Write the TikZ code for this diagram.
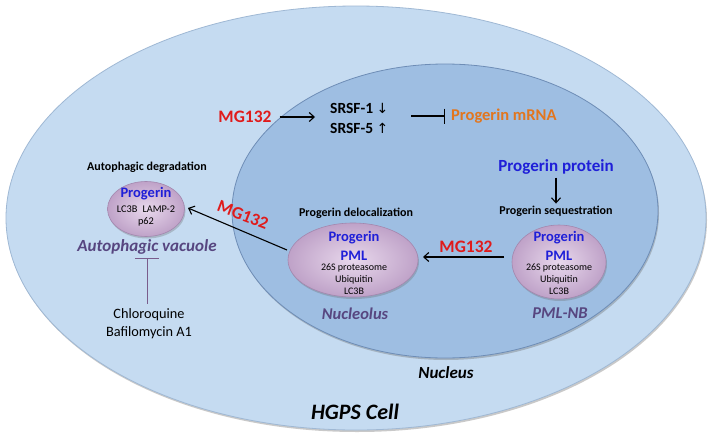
\documentclass[tikz,border=0pt]{standalone}
\usepackage{fontspec}
\setmainfont{Carlito}
\newfontfamily\dv{DejaVu Sans}
\usetikzlibrary{shapes.geometric,shadows,arrows.meta}
\definecolor{cellfill}{HTML}{C5DBF1}
\definecolor{cellline}{HTML}{9FB8D4}
\definecolor{nucfill}{HTML}{9EBEE2}
\definecolor{nucline}{HTML}{6E8DB6}
\definecolor{pblue}{HTML}{1F1FD8}
\definecolor{pred}{HTML}{E01B1B}
\definecolor{porange}{HTML}{E2761E}
\definecolor{ppurple}{HTML}{574680}
\definecolor{vacin}{HTML}{E8D8EC}
\definecolor{vacout}{HTML}{BFA2C8}
\definecolor{vacline}{HTML}{A387AE}
\definecolor{inhib}{HTML}{7A5C8C}
\tikzset{
  cellshape/.style={ellipse, inner sep=0pt, fill=cellfill, draw=cellline, line width=0.8pt,
    drop shadow={shadow xshift=1pt, shadow yshift=-2pt, opacity=0.35, fill=black!60}},
  nucshape/.style={ellipse, inner sep=0pt, fill=nucfill, draw=nucline, line width=0.8pt,
    drop shadow={shadow xshift=1pt, shadow yshift=-2pt, opacity=0.35, fill=black!60}},
  vacshape/.style={ellipse, inner sep=0pt, inner color=vacin, outer color=vacout, draw=vacline, line width=0.6pt,
    drop shadow={shadow xshift=1pt, shadow yshift=-2pt, opacity=0.3, fill=black!60}},
  drug/.style={text=pred, font=\bfseries\fontsize{17.5}{19}\selectfont, inner sep=1pt},
  lbl/.style={font=\bfseries\fontsize{12}{14}\selectfont, inner sep=1pt},
  organelle/.style={text=ppurple, font=\bfseries\itshape\fontsize{16.5}{18}\selectfont, inner sep=1pt},
  prog/.style={text=pblue, font=\bfseries\fontsize{14.5}{16}\selectfont, inner sep=1pt},
  small/.style={font=\fontsize{10}{11}\selectfont, inner sep=0.5pt},
  act/.style={-{Straight Barb[length=5pt,width=9pt]}, line width=1.1pt, black},
  blockarrow/.style={-{Bar[width=15pt]}, line width=1.1pt, black},
}
\begin{document}
\begin{tikzpicture}[x=1pt,y=-1pt]
\path[use as bounding box] (0,0) rectangle (708,436);
\fill[white] (0,0) rectangle (708,436);
% cell and nucleus
\node[cellshape, minimum width=700pt, minimum height=424pt] (cell) at (356,218) {};
\node[nucshape, minimum width=426pt, minimum height=294pt] (nucleus) at (445,211) {};
% texts on the cell
\node[font=\bfseries\itshape\fontsize{22}{24}\selectfont] (hgps) at (355,412) {HGPS Cell};
\node[font=\bfseries\itshape\fontsize{17}{19}\selectfont] (nuclabel) at (446,373) {Nucleus};
% splicing factors
\node[drug] (mgA) at (245,117) {MG132};
\node[font=\bfseries\fontsize{15.5}{17}\selectfont, anchor=west, inner sep=1pt] (srsfA) at (329,108) {SRSF-1 {\dv\mdseries\fontsize{14}{16}\selectfont ↓}};
\node[font=\bfseries\fontsize{15.5}{17}\selectfont, anchor=west, inner sep=1pt] (srsfB) at (329,128) {SRSF-5 {\dv\mdseries\fontsize{14}{16}\selectfont ↑}};
\node[text=porange, font=\bfseries\fontsize{16.5}{18}\selectfont, anchor=west, inner sep=1pt] (mrna) at (450,116) {Progerin mRNA};
\coordinate (mgAend) at (315,117);
\coordinate (inhA) at (411,116);
\coordinate (inhB) at (445,116);
\draw[act, shorten <=7pt] (mgA.east) -- (mgAend);
\draw[blockarrow] (inhA) -- (inhB);
% progerin protein
\node[text=pblue, font=\bfseries\fontsize{17}{19}\selectfont, inner sep=1pt] (protein) at (556,167) {Progerin protein};
\node[lbl] (seq) at (556,211) {Progerin sequestration};
\draw[act, shorten <=2pt, shorten >=1pt] (protein.south) -- (seq.north);
% PML-NB
\node[vacshape, minimum width=94pt, minimum height=74pt] (pmlnb) at (559,262) {};
\node[prog] (pA) at (559,238) {Progerin};
\node[prog] (pB) at (559,255.5) {PML};
\node[small] (pC) at (559,267.5) {26S proteasome};
\node[small] (pD) at (559,279.5) {Ubiquitin};
\node[small] (pE) at (559,291) {LC3B};
\node[organelle] (pmlnblbl) at (560,313) {PML-NB};
% Nucleolus
\node[lbl] (deloc) at (356,213) {Progerin delocalization};
\node[vacshape, minimum width=130pt, minimum height=74pt] (nucleolus) at (353,260) {};
\node[prog] (nA) at (354,238) {Progerin};
\node[prog] (nB) at (354,255.5) {PML};
\node[small] (nC) at (354,267.5) {26S proteasome};
\node[small] (nD) at (354,279.5) {Ubiquitin};
\node[small] (nE) at (354,291) {LC3B};
\node[organelle] (nucleoluslbl) at (355,314) {Nucleolus};
% MG132 between bodies
\node[drug] (mgB) at (466,247) {MG132};
\coordinate (pmlout) at (504,257);
\coordinate (nucin) at (423,257);
\draw[act] (pmlout) -- (nucin);
% Autophagic vacuole
\node[lbl] (degr) at (147,167) {Autophagic degradation};
\node[vacshape, minimum width=77pt, minimum height=55pt] (vac) at (146,209) {};
\node[prog] (vA) at (146,194) {Progerin};
\node[small, font=\fontsize{10.3}{11}\selectfont] (vB) at (146,209) {LC3B\enspace LAMP-2};
\node[small, font=\fontsize{10.3}{11}\selectfont] (vC) at (146,221.5) {p62};
\node[font=\bfseries\itshape\fontsize{17}{19}\selectfont, text=ppurple, inner sep=1pt] (vaclbl) at (147,247) {Autophagic vacuole};
% MG132 to vacuole
\coordinate (exitA) at (287,250);
\coordinate (vacin) at (188,208);
\draw[act] (exitA) -- (vacin);
\node[drug, rotate=-21] (mgC) at (243,215) {MG132};
% drugs inhibiting autophagy
\node[font=\fontsize{14.3}{18}\selectfont, align=center, inner sep=1pt] (chloro) at (149,324) {Chloroquine\\Bafilomycin A1};
\coordinate (inhTop) at (147,258);
\draw[-{Bar[width=24pt]}, line width=1pt, inhib] (chloro.north -| inhTop) ++(0,-4) -- (inhTop);
\end{tikzpicture}
\end{document}
